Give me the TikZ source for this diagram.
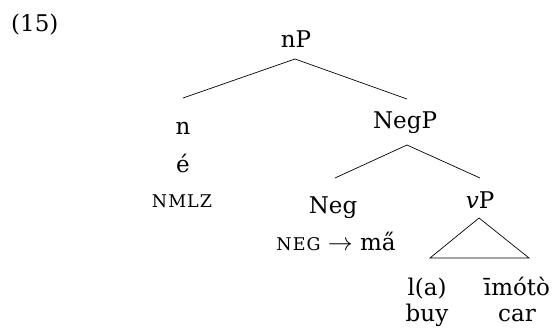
\documentclass[tikz,border=0pt]{standalone}
\usepackage{fontspec}
\setmainfont{DejaVu Serif}
\newfontfamily\scfont[LetterSpace=6]{DejaVu Serif}
\newcommand{\fsc}[1]{{\scfont\fontsize{17.5}{17.5}\selectfont #1}}
\begin{document}
\begin{tikzpicture}[x=1pt,y=-1pt,
  lbl/.style={anchor=base,inner sep=0pt,font=\fontsize{23}{26}\selectfont},
  edge/.style={line width=0.7pt}]
\useasboundingbox (0,0) rectangle (553,334);
\node[lbl,anchor=base west] (ex) at (11,32) {(15)};
\node[lbl] (nP) at (296,48) {nP};
\node[lbl] (n) at (183,134) {n};
\node[lbl] (e) at (183,172) {é};
\node[lbl] (nmlz) at (182,207) {\fsc{NMLZ}};
\node[lbl] (NegP) at (405,128) {NegP};
\node[lbl] (Neg) at (333,213) {Neg};
\node[lbl] (negma) at (336,250) {\fsc{NEG} $\rightarrow$ ma̋};
\node[lbl] (vP) at (480,208) {\textit{v}P};
\node[lbl] (la) at (427,295) {l(a)};
\node[lbl] (imoto) at (517,295) {īmótò};
\node[lbl] (buy) at (427,321) {buy};
\node[lbl] (car) at (517,321) {car};
\coordinate (nPb) at (295,59);
\coordinate (nt) at (183,98);
\coordinate (NegPt) at (407,99);
\coordinate (NegPb) at (407,145);
\coordinate (Negt) at (335,178);
\coordinate (vPt) at (480,178);
\coordinate (triA) at (479,218);
\coordinate (triL) at (430,258);
\coordinate (triR) at (529,258);
\draw[edge] (nPb) -- (nt);
\draw[edge] (nPb) -- (NegPt);
\draw[edge] (NegPb) -- (Negt);
\draw[edge] (NegPb) -- (vPt);
\draw[edge] (triA) -- (triL) -- (triR) -- cycle;
\end{tikzpicture}
\end{document}
